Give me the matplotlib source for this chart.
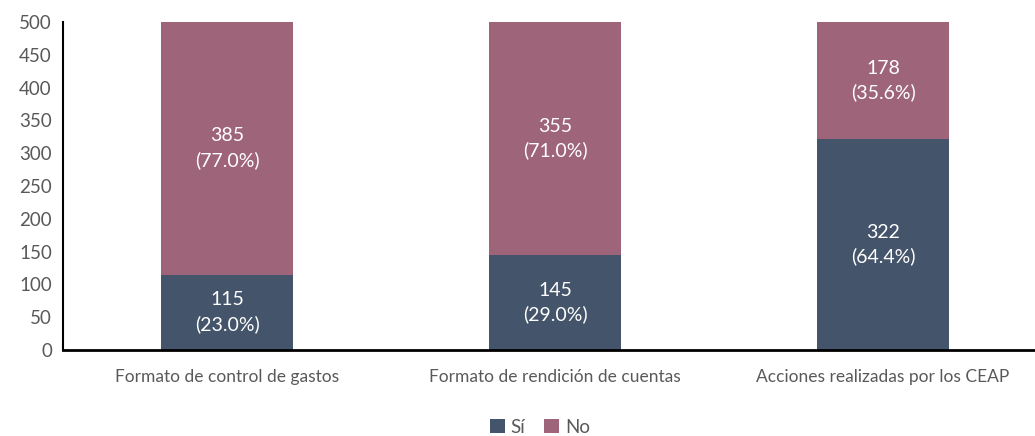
import matplotlib.pyplot as plt

categories = ['Formato de control de gastos', 'Formato de rendición de cuentas',
              'Acciones realizadas por los CEAP']
si = [115, 145, 322]
no = [385, 355, 178]
si_pct = [23.0, 29.0, 64.4]
no_pct = [77.0, 71.0, 35.6]

plt.rcParams['font.family'] = ['Lato', 'DejaVu Sans']
c_si = '#44546A'
c_no = '#9E6479'
gray = '#595959'

fig = plt.figure(figsize=(10.35, 4.36), dpi=100)
ax = fig.add_axes([63 / 1035, 1 - 350 / 436, (1035 - 63) / 1035, 328 / 436])

x = range(len(categories))
ax.bar(x, si, width=0.4, color=c_si, label='Sí')
ax.bar(x, no, width=0.4, bottom=si, color=c_no, label='No')

for i in x:
    ax.text(i, si[i] / 2, f'{si[i]}\n({si_pct[i]:.1f}%)', ha='center', va='center',
            color='white', fontsize=14, linespacing=1.45)
    ax.text(i, si[i] + no[i] / 2, f'{no[i]}\n({no_pct[i]:.1f}%)', ha='center', va='center',
            color='white', fontsize=14, linespacing=1.45)

ax.set_ylim(0, 500)
ax.set_xlim(-0.5, (1035 - 63) / 328 - 0.5)
ax.set_yticks(range(0, 501, 50))
ax.set_xticks(list(x))
ax.set_xticklabels(categories, fontsize=12.5)
ax.tick_params(axis='both', length=0, colors=gray)
ax.tick_params(axis='y', labelsize=13.5, pad=8)
ax.tick_params(axis='x', pad=14)
for s in ['top', 'right']:
    ax.spines[s].set_visible(False)
ax.spines['left'].set_linewidth(1.5)
ax.spines['bottom'].set_linewidth(2)

fig.legend(loc='center', bbox_to_anchor=(540 / 1035, 1 - 427 / 436), ncol=2, frameon=False,
           fontsize=13.5, handlelength=0.8, handleheight=0.8, handletextpad=0.3,
           columnspacing=1.0, labelcolor=gray)

fig.savefig('out.png', dpi=100)
